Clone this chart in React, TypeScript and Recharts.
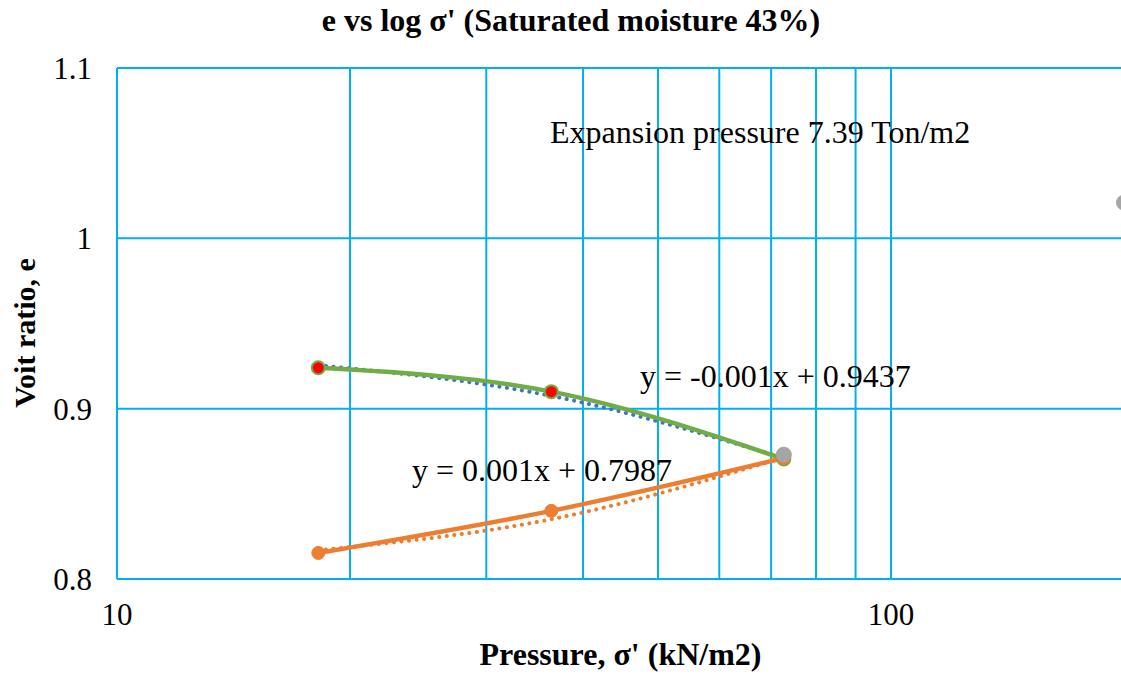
import {
  ComposedChart,
  Line,
  XAxis,
  YAxis,
  CartesianGrid,
  Label,
} from 'recharts';

// pressure (kN/m2) for loading / unloading stages
const pressure = [18.2, 36.4, 72.7];
const loadingE = [0.924, 0.910, 0.8705];
const unloadingE = [0.8153, 0.840, 0.871];

// excel linear trendlines at the same pressures
const loadingTrend = [0.9255, 0.9075, 0.871];
const unloadingTrend = [0.8169, 0.8351, 0.8714];

// swelling points (grey)
const swellP = [72.7, 200];
const swellE = [0.873, 1.021];

const xTicks = [10, 20, 30, 40, 50, 60, 70, 80, 90, 100, 200];
const xLabelTicks = [10, 100];
const yTicks = [0.8, 0.9, 1, 1.1];

const toRows = (xs: number[], ys: number[]) => xs.map((p, i) => ({ p, e: ys[i] }));

const loading = toRows(pressure, loadingE);
const unloading = toRows(pressure, unloadingE);
const loadingFit = toRows(pressure, loadingTrend);
const unloadingFit = toRows(pressure, unloadingTrend);
const swell = toRows(swellP, swellE);

const GRID = '#00B0F0';
const FONT = 'Liberation Serif';

const RedDot = (props: any) => {
  const { cx, cy } = props;
  return <circle cx={cx} cy={cy} r={6.5} fill="#FF0000" stroke="#70AD47" strokeWidth={2} />;
};

const note = (left: number, top: number) => ({
  position: 'absolute' as const,
  left,
  top,
  fontSize: 32,
  lineHeight: '36px',
  whiteSpace: 'nowrap' as const,
});

export default function App() {
  return (
    <div
      style={{
        position: 'fixed',
        left: 0,
        top: 0,
        width: 1121,
        height: 676,
        overflow: 'hidden',
        background: '#fff',
        fontFamily: FONT,
      }}
    >
      <div
        style={{
          position: 'absolute',
          top: 2,
          left: 0,
          width: 1142,
          textAlign: 'center',
          fontSize: 32,
          lineHeight: '36px',
          fontWeight: 'bold',
        }}
      >
        e vs log σ' (Saturated moisture 43%)
      </div>

      <ComposedChart
        width={1124}
        height={676}
        margin={{ top: 68, right: 0, left: 57, bottom: 37 }}
        style={{ fontFamily: FONT }}
      >
        <CartesianGrid stroke={GRID} strokeWidth={2} />
        <XAxis
          dataKey="p"
          type="number"
          scale="log"
          domain={[10, 200]}
          ticks={xTicks}
          interval={0}
          allowDataOverflow
          axisLine={false}
          tickLine={false}
          tickSize={0}
          tickMargin={24}
          height={60}
          tickFormatter={(v: number) => (xLabelTicks.includes(v) ? String(v) : '')}
          tick={{ fill: '#000', fontSize: 31, fontFamily: FONT }}
        >
          <Label
            value="Pressure, σ' (kN/m2)"
            position="bottom"
            offset={3}
            style={{ fontSize: 32, fontWeight: 'bold', fill: '#000', fontFamily: FONT }}
          />
        </XAxis>
        <YAxis
          dataKey="e"
          type="number"
          domain={[0.8, 1.1]}
          ticks={yTicks}
          interval={0}
          axisLine={false}
          tickLine={false}
          tickSize={0}
          tickMargin={25}
          width={60}
          tick={{ fill: '#000', fontSize: 31, fontFamily: FONT }}
        />

        <Line
          data={loadingFit}
          dataKey="e"
          type="natural"
          stroke="#4472C4"
          strokeWidth={4}
          strokeDasharray="0.1 7.5"
          strokeLinecap="round"
          dot={false}
          activeDot={false}
          isAnimationActive={false}
        />
        <Line
          data={unloadingFit}
          dataKey="e"
          type="natural"
          stroke="#ED7D31"
          strokeWidth={4}
          strokeDasharray="0.1 7.5"
          strokeLinecap="round"
          dot={false}
          activeDot={false}
          isAnimationActive={false}
        />
        <Line
          data={loading}
          dataKey="e"
          type="monotone"
          stroke="#70AD47"
          strokeWidth={4.5}
          dot={<RedDot />}
          activeDot={false}
          isAnimationActive={false}
        />
        <Line
          data={unloading}
          dataKey="e"
          type="monotone"
          stroke="#ED7D31"
          strokeWidth={4.5}
          dot={{ r: 6.5, fill: '#ED7D31', stroke: '#ED7D31', strokeWidth: 1 }}
          activeDot={false}
          isAnimationActive={false}
        />
        <Line
          data={swell}
          dataKey="e"
          stroke="none"
          dot={{ r: 7.5, fill: '#A5A5A5', stroke: '#A5A5A5', strokeWidth: 1 }}
          activeDot={false}
          isAnimationActive={false}
        />
      </ComposedChart>

      <div
        style={{
          position: 'absolute',
          left: 25 - 100,
          top: 333 - 18,
          width: 200,
          textAlign: 'center',
          fontSize: 30,
          lineHeight: '36px',
          fontWeight: 'bold',
          transform: 'rotate(-90deg)',
          whiteSpace: 'nowrap',
        }}
      >
        Voit ratio, e
      </div>

      <div style={note(550, 114)}>Expansion pressure 7.39 Ton/m2</div>
      <div style={note(640, 358)}>y = -0.001x + 0.9437</div>
      <div style={note(412, 452)}>y = 0.001x + 0.7987</div>
    </div>
  );
}
